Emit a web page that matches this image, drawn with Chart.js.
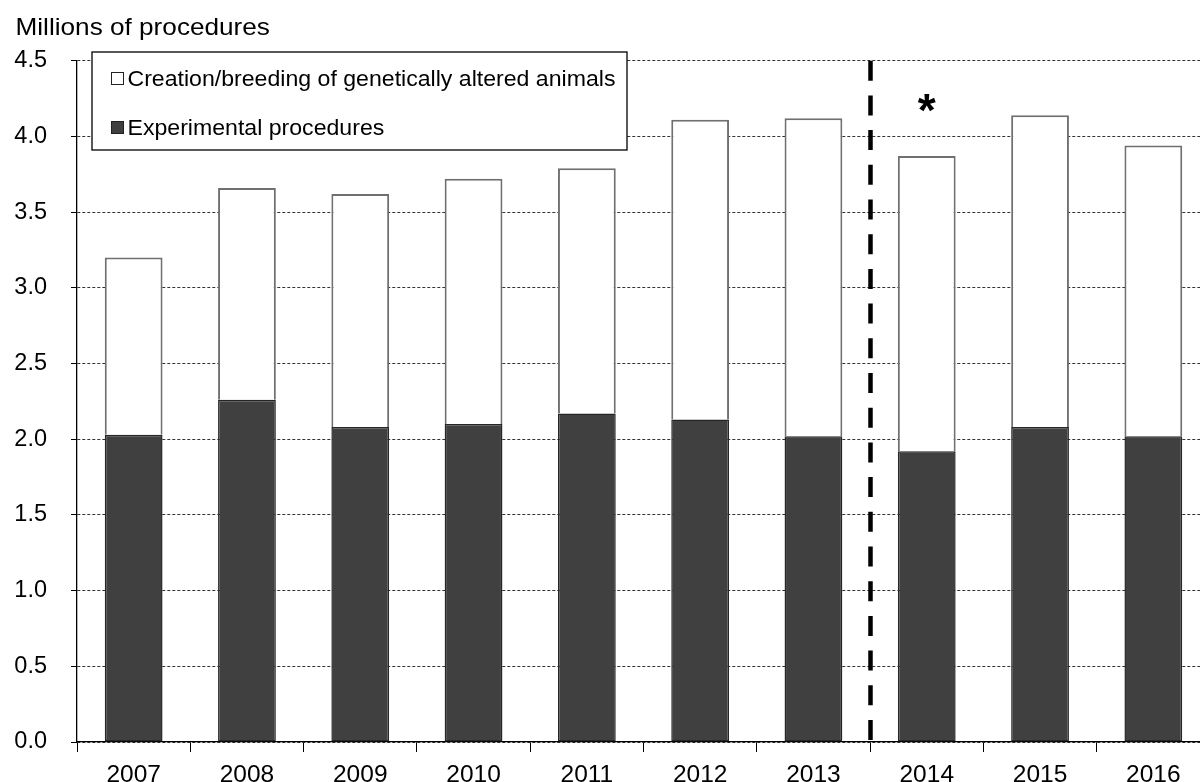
<!DOCTYPE html>
<html><head><meta charset="utf-8">
<script src="https://cdn.jsdelivr.net/npm/chart.js@4.4.1/dist/chart.umd.min.js"></script>
<style>
html,body{margin:0;padding:0;background:#fff;overflow:hidden;width:1200px;height:782px;}
#wrap{position:absolute;left:0;top:0;width:1222px;height:800px;}
</style></head><body>
<div id="wrap"><canvas id="c" width="1222" height="800"></canvas></div>
<script>
// ---- data ----
const years = ['2007','2008','2009','2010','2011','2012','2013','2014','2015','2016'];
const experimental = [2.03, 2.26, 2.08, 2.10, 2.17, 2.13, 2.02, 1.92, 2.08, 2.02];
const geneticallyAltered = [1.17, 1.40, 1.54, 1.62, 1.62, 1.98, 2.10, 1.95, 2.06, 1.92];
const seriesLabels = ['Creation/breeding of genetically altered animals', 'Experimental procedures'];
const yAxisTitle = 'Millions of procedures';
const yMin = 0, yMax = 4.5, yStep = 0.5;
const dividerBetween = ['2013', '2014'];
const noteYear = '2014';
const noteText = '*';
const noteValue = 4.22;

const FONT = '"Liberation Sans", Arial, sans-serif';
const darkFill = '#404040';

const overlay = {
  id: 'overlay',
  afterDraw(chart) {
    const ctx = chart.ctx, xs = chart.scales.x, ys = chart.scales.y;
    // divider line
    const i0 = years.indexOf(dividerBetween[0]), i1 = years.indexOf(dividerBetween[1]);
    const px = Math.round((xs.getPixelForTick(i0) + xs.getPixelForTick(i1)) / 2) + 0.5;
    ctx.save();
    ctx.strokeStyle = '#000';
    ctx.lineWidth = 4.5;
    ctx.setLineDash([20, 14.7]);
    ctx.beginPath();
    ctx.moveTo(px, ys.getPixelForValue(yMax));
    ctx.lineTo(px, ys.getPixelForValue(yMin));
    ctx.stroke();
    ctx.restore();

    // asterisk note
    ctx.save();
    ctx.fillStyle = '#000';
    ctx.font = 'bold 100px ' + FONT;
    const m = ctx.measureText(noteText);
    const w100 = m.actualBoundingBoxLeft + m.actualBoundingBoxRight;
    const size = 18 / w100 * 100;
    ctx.font = 'bold ' + size + 'px ' + FONT;
    const mm = ctx.measureText(noteText);
    const nx = xs.getPixelForTick(years.indexOf(noteYear));
    const ny = ys.getPixelForValue(noteValue);
    const cx = (mm.actualBoundingBoxRight - mm.actualBoundingBoxLeft) / 2;
    const cy = (mm.actualBoundingBoxAscent - mm.actualBoundingBoxDescent) / 2;
    ctx.textBaseline = 'alphabetic';
    ctx.textAlign = 'left';
    ctx.fillText(noteText, nx - cx, ny + cy);
    ctx.restore();

    // axis title
    ctx.save();
    ctx.fillStyle = '#000';
    ctx.font = '24px ' + FONT;
    ctx.textBaseline = 'alphabetic';
    ctx.translate(15.5, 35);
    ctx.scale(1.09, 1);
    ctx.fillText(yAxisTitle, 0, 0);
    ctx.restore();

    // legend box
    ctx.save();
    ctx.fillStyle = '#fff';
    ctx.fillRect(92, 52, 535, 98);
    ctx.strokeStyle = '#000';
    ctx.lineWidth = 1.3;
    ctx.strokeRect(92, 52, 535, 98);
    const items = [
      { label: seriesLabels[0], fill: '#fff', y: 86 },
      { label: seriesLabels[1], fill: darkFill, y: 135 }
    ];
    items.forEach(it => {
      ctx.fillStyle = it.fill;
      ctx.fillRect(111, it.y - 14, 12.5, 12.5);
      ctx.strokeStyle = '#222';
      ctx.lineWidth = 1;
      ctx.strokeRect(111.5, it.y - 13.5, 12, 12);
      ctx.save();
      ctx.fillStyle = '#000';
      ctx.font = '22px ' + FONT;
      ctx.textBaseline = 'alphabetic';
      ctx.translate(127.5, it.y);
      ctx.scale(1.05, 1);
      ctx.fillText(it.label, 0, 0);
      ctx.restore();
    });
    ctx.restore();
  }
};

new Chart(document.getElementById('c'), {
  type: 'bar',
  data: {
    labels: years,
    datasets: [
      {
        label: seriesLabels[1],
        data: experimental,
        backgroundColor: darkFill,
        borderColor: '#262626',
        borderWidth: 1.5,
        borderSkipped: false,
        barPercentage: 0.51,
        categoryPercentage: 1
      },
      {
        label: seriesLabels[0],
        data: geneticallyAltered,
        backgroundColor: '#fff',
        borderColor: '#707070',
        borderWidth: 2,
        borderSkipped: 'start',
        barPercentage: 0.51,
        categoryPercentage: 1
      }
    ]
  },
  options: {
    responsive: false,
    animation: false,
    devicePixelRatio: 1,
    layout: { padding: { top: 60.7, right: 12, left: 0, bottom: 0 } },
    plugins: { legend: { display: false }, tooltip: { enabled: false }, title: { display: false } },
    scales: {
      x: {
        stacked: true,
        offset: true,
        grid: { display: true, offset: true, drawOnChartArea: false, drawTicks: true, tickLength: 10, color: '#000', lineWidth: 1 },
        border: { display: true, color: '#000', width: 1.3 },
        ticks: { color: '#000', font: { family: FONT, size: 24.5 }, padding: 9, maxRotation: 0, autoSkip: false },
        afterFit(s) { s.height = 58; }
      },
      y: {
        stacked: true,
        min: yMin, max: yMax,
        grid: { color: '#333', lineWidth: 1, drawTicks: true, tickLength: 6, tickColor: '#000', tickBorderDash: [] },
        border: { display: true, color: '#000', width: 1.3, dash: [3, 2] },
        ticks: { stepSize: yStep, color: '#000', font: { family: FONT, size: 23.5 }, padding: 24,
                 callback: v => Number(v).toFixed(1) },
        afterFit(s) { s.width = 77; }
      }
    }
  },
  plugins: [overlay]
});
</script>
</body></html>
